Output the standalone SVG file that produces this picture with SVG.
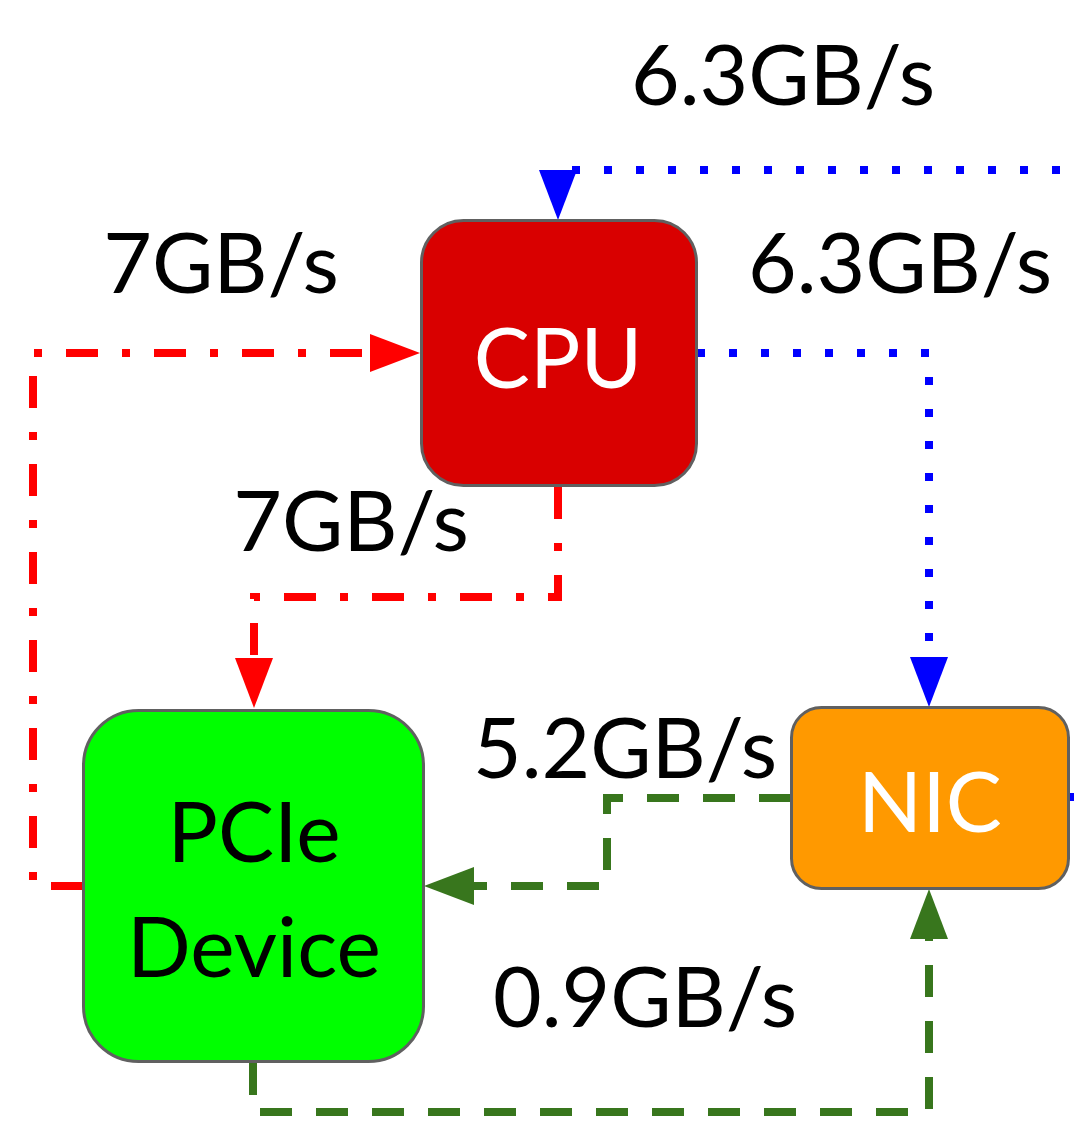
<svg xmlns="http://www.w3.org/2000/svg" width="1074" height="1127" viewBox="0 0 1074 1127">
<style>
.box{stroke:#606060;stroke-width:3}
.lbl{font-family:Lato,"Open Sans","Liberation Sans",sans-serif;font-size:84px;fill:#000;text-anchor:middle}
.wt{fill:#fff}
.c{fill:none;stroke-width:8;stroke-linejoin:miter;stroke-linecap:butt}
.red{stroke:#ff0000;stroke-dasharray:32 24 8 24}
.blue{stroke:#0000ff;stroke-dasharray:8 24}
.green{stroke:#38761d;stroke-dasharray:32 24}
</style>
<defs>
<marker id="aR" markerUnits="userSpaceOnUse" markerWidth="50" markerHeight="38" refX="10" refY="19" orient="auto" viewBox="0 0 50 38"><path d="M0,0 L50,19 L0,38 z" fill="#ff0000"/></marker>
<marker id="aB" markerUnits="userSpaceOnUse" markerWidth="50" markerHeight="38" refX="10" refY="19" orient="auto" viewBox="0 0 50 38"><path d="M0,0 L50,19 L0,38 z" fill="#0000ff"/></marker>
<marker id="aG" markerUnits="userSpaceOnUse" markerWidth="50" markerHeight="38" refX="10" refY="19" orient="auto" viewBox="0 0 50 38"><path d="M0,0 L50,19 L0,38 z" fill="#38761d"/></marker>
</defs>
<rect width="1074" height="1127" fill="#fff"/>
<g id="connectors">
<path class="c red" d="M83,886 H33 V353 H380" marker-end="url(#aR)"/>
<path class="c red" d="M558,487 V597 H254 V668" marker-end="url(#aR)"/>
<path class="c blue" d="M697,353 H929 V667" marker-end="url(#aB)"/>
<path class="c blue" d="M1069,797 H1103 V170 H558 V180" marker-end="url(#aB)"/>
<path class="c green" d="M791,798 H607 V886 H464" marker-end="url(#aG)"/>
<path class="c green" d="M253,1063 V1112 H929 V929" marker-end="url(#aG)"/>
</g>
<g id="labels">
<text class="lbl" x="783" y="105">6.3GB/s</text>
<text class="lbl" x="221" y="293">7GB/s</text>
<text class="lbl" x="900" y="293">6.3GB/s</text>
<text class="lbl" x="351" y="551">7GB/s</text>
<text class="lbl" x="625" y="778">5.2GB/s</text>
<text class="lbl" x="645" y="1027">0.9GB/s</text>
</g>
<g id="cpu">
<rect class="box" x="421.5" y="220.5" width="275" height="265" rx="42" fill="#d90000"/>
<text class="lbl wt" x="558" y="388">CPU</text>
</g>
<g id="pcie">
<rect class="box" x="83.5" y="710.5" width="340" height="351" rx="55" fill="#00ff00"/>
<text class="lbl" x="254" y="862">PCIe</text>
<text class="lbl" x="254" y="977">Device</text>
</g>
<g id="nic">
<rect class="box" x="791.5" y="707.5" width="277" height="181" rx="30" fill="#ff9900"/>
<text class="lbl wt" x="930" y="832">NIC</text>
</g>
</svg>
